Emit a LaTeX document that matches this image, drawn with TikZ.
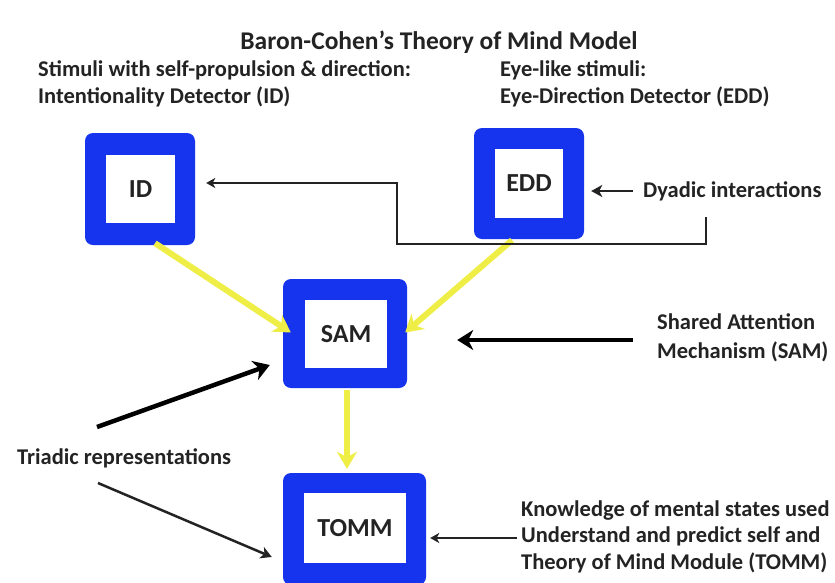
\documentclass[tikz,border=0pt]{standalone}
\usepackage{fontspec}
\setmainfont{Carlito}
\usetikzlibrary{arrows.meta,calc}
\definecolor{boxblue}{RGB}{22,52,238}
\definecolor{flowyellow}{RGB}{238,238,70}
\definecolor{inkgray}{RGB}{35,35,35}
\begin{document}
\begin{tikzpicture}[x=1pt,y=-1pt,
  outerbox/.style={fill=boxblue, rounded corners=8pt, inner sep=0pt},
  innerbox/.style={fill=white, inner sep=0pt, font=\fontsize{26}{28}\selectfont\bfseries, text=inkgray},
  lbl/.style={inner sep=0pt, anchor=west, align=left, text=inkgray, font=\fontsize{22.5}{27}\selectfont\bfseries},
  yflow/.style={draw=flowyellow, line width=6pt, -{Stealth[length=17pt,width=20pt]}},
  thickarrow/.style={draw=black, line width=4.5pt, -{Stealth[length=16pt,width=20pt,inset=5pt]}},
  thinarrow/.style={draw=inkgray, line width=2.5pt, -{Stealth[length=11pt,width=12pt,inset=3pt]}},
  hairarrow/.style={draw=inkgray, line width=2pt, -{Stealth[length=9pt,width=10pt,inset=2.5pt]}}]
\useasboundingbox[fill=white] (0,0) rectangle (835,582);

% title and detector descriptions
\node[inner sep=0pt, text=inkgray, font=\fontsize{25.5}{28}\selectfont\bfseries] (title) at (439,42) {Baron-Cohen's Theory of Mind Model};
\node[lbl] (idlbl) at (38,84) {Stimuli with self-propulsion \& direction:\\Intentionality Detector (ID)};
\node[lbl] (eddlbl) at (500,84) {Eye-like stimuli:\\Eye-Direction Detector (EDD)};

% module boxes: blue frame with white core
\node[outerbox, minimum width=110pt, minimum height=112pt] (id) at (140,189) {};
\node[innerbox, minimum width=69pt, minimum height=68pt] (idin) at (140.5,189) {ID};
\node[outerbox, minimum width=110pt, minimum height=111pt] (edd) at (529,183.5) {};
\node[innerbox, minimum width=68pt, minimum height=69pt] (eddin) at (529,183.5) {EDD};
\node[outerbox, minimum width=124pt, minimum height=109pt] (sam) at (345,333.5) {};
\node[innerbox, minimum width=82pt, minimum height=68pt] (samin) at (346,334) {SAM};
\node[outerbox, minimum width=143pt, minimum height=112pt] (tomm) at (354.5,529) {};
\node[innerbox, minimum width=102pt, minimum height=70pt] (tommin) at (355,528) {TOMM};

% side labels
\node[lbl] (dyad) at (643,191) {Dyadic interactions};
\node[lbl, font=\fontsize{22.5}{29}\selectfont\bfseries] (shared) at (657,337.5) {Shared Attention\\Mechanism (SAM)};
\node[lbl] (triad) at (17,458) {Triadic representations};
\node[lbl, font=\fontsize{22.5}{26.5}\selectfont\bfseries] (know) at (521,536.5) {Knowledge of mental states used\\Understand and predict self and\\Theory of Mind Module (TOMM)};
\coordinate (dyfoot) at (706,217);

% yellow flow between modules
\draw[yflow] ($(id.south)+(15,-2)$) -- ($(sam.west)+(8,-1)$);
\draw[yflow] ($(edd.south)+(-17,1)$) -- ($(sam.east)+(-2,-1)$);
\draw[yflow] ($(sam.south)+(2,2)$) -- ($(tomm.north)+(-7.5,-4)$);

% black inputs
\draw[hairarrow] (dyfoot) -- ++(0,27) -| ($(id.east)+(202,-6)$) -- ($(id.east)+(11,-6)$);
\draw[thinarrow] ($(dyad.west)+(-10,0)$) -- ($(edd.east)+(7,7.5)$);
\draw[thickarrow] ($(shared.west)+(-24,2.5)$) -- ($(sam.east)+(50,6.5)$);
\draw[thickarrow] ($(triad.west)+(80,-31)$) -- ($(sam.west)+(-13,31.5)$);
\draw[thinarrow] ($(triad.west)+(81,25)$) -- ($(tomm.west)+(-11,28)$);
\draw[hairarrow] ($(know.west)+(-4,1.5)$) -- ($(tomm.east)+(4,9)$);
\end{tikzpicture}
\end{document}
